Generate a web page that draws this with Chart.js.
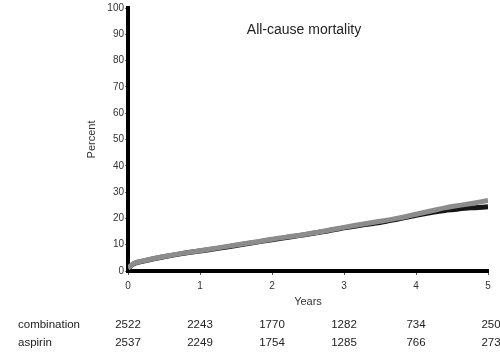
<!DOCTYPE html>
<html>
<head>
<meta charset="utf-8">
<script src="https://cdn.jsdelivr.net/npm/chart.js@4/dist/chart.umd.min.js"></script>
<style>
  html, body { margin: 0; padding: 0; background: #fff; }
  #wrap { width: 500px; height: 355px; }
</style>
</head>
<body>
<div id="wrap"><canvas id="myChart" width="500" height="355"></canvas></div>
<script>
// values
const years = [0, 0.05, 0.1, 0.25, 0.5, 0.75, 1, 1.25, 1.5, 1.75, 2, 2.25, 2.5, 2.75, 3, 3.25, 3.5, 3.75, 4, 4.25, 4.4, 4.5, 4.75, 5];
const combination = [1, 2.2, 3, 4, 5.4, 6.6, 7.6, 8.6, 9.7, 10.8, 11.9, 12.9, 14, 15.1, 16.4, 17.5, 18.4, 19.8, 21.2, 22.4, 23, 23.3, 24, 24.4];
const aspirin = [1, 2.3, 3.1, 4.1, 5.5, 6.7, 7.7, 8.8, 9.9, 10.9, 12.1, 13.1, 14.1, 15.3, 16.6, 17.8, 18.9, 20.1, 21.6, 23.1, 24, 24.5, 25.6, 26.8];
const xTicks = [0, 1, 2, 3, 4, 5];
const yTicks = [0, 10, 20, 30, 40, 50, 60, 70, 80, 90, 100];
const riskCombination = [2522, 2243, 1770, 1282, 734, 250];
const riskAspirin = [2537, 2249, 1754, 1285, 766, 273];

const toPoints = (xs, ys) => xs.map((x, i) => ({ x: x, y: ys[i] }));

const textColor = '#333';
const fontFamily = 'Liberation Sans, Arial, sans-serif';

// draws the title and the numbers-at-risk table
const extras = {
    id: 'extras',
    afterDraw(chart) {
        const ctx = chart.ctx;
        const xs = chart.scales.x;
        const ys = chart.scales.y;
        ctx.save();
        ctx.fillStyle = '#222';
        ctx.font = '14px ' + fontFamily;
        ctx.textAlign = 'left';
        ctx.textBaseline = 'middle';
        ctx.fillText('All-cause mortality', xs.getPixelForValue(1.65), ys.getPixelForValue(91.5));

        ctx.font = '11.5px ' + fontFamily;
        const row1 = 325, row2 = 343;
        ctx.fillText('combination', 18, row1);
        ctx.fillText('aspirin', 18, row2);
        ctx.textAlign = 'center';
        xTicks.forEach((t, i) => {
            let px = xs.getPixelForValue(t);
            if (i === xTicks.length - 1) px += 3;
            ctx.fillText(String(riskCombination[i]), px, row1);
            ctx.fillText(String(riskAspirin[i]), px, row2);
        });
        ctx.restore();
    }
};

const ctx = document.getElementById('myChart');

new Chart(ctx, {
    type: 'line',
    data: {
        datasets: [
            {
                label: 'combination',
                data: toPoints(years, combination),
                borderColor: '#151515',
                borderWidth: 5,
                pointRadius: 0,
                tension: 0.3,
                fill: false,
                order: 2
            },
            {
                label: 'aspirin',
                data: toPoints(years, aspirin),
                borderColor: '#8c8c8c',
                borderWidth: 5,
                pointRadius: 0,
                tension: 0.3,
                fill: false,
                order: 1
            }
        ]
    },
    options: {
        responsive: false,
        animation: false,
        layout: { padding: { left: 85, top: 8, right: 12, bottom: 46 } },
        plugins: {
            legend: { display: false },
            tooltip: { enabled: false }
        },
        scales: {
            x: {
                type: 'linear',
                min: 0,
                max: 5,
                afterBuildTicks: (scale) => { scale.ticks = xTicks.map(v => ({ value: v })); },
                afterFit: (scale) => { scale.height = 38; },
                border: { display: true, color: '#000', width: 4 },
                grid: { drawOnChartArea: false, tickLength: 4, color: '#555' },
                ticks: { color: textColor, font: { size: 10, family: fontFamily }, padding: 5 },
                title: { display: true, text: 'Years', color: textColor, font: { size: 11, family: fontFamily }, padding: { top: 5, bottom: 0 } }
            },
            y: {
                min: 0,
                max: 100,
                afterBuildTicks: (scale) => { scale.ticks = yTicks.map(v => ({ value: v })); },
                afterFit: (scale) => { scale.width = 43; },
                border: { display: true, color: '#000', width: 4 },
                grid: { drawOnChartArea: false, tickLength: 3, color: '#777' },
                ticks: { color: textColor, font: { size: 10, family: fontFamily }, padding: 1 },
                title: { display: true, text: 'Percent', color: textColor, font: { size: 11, family: fontFamily }, padding: 0 }
            }
        }
    },
    plugins: [extras]
});
</script>
</body>
</html>
